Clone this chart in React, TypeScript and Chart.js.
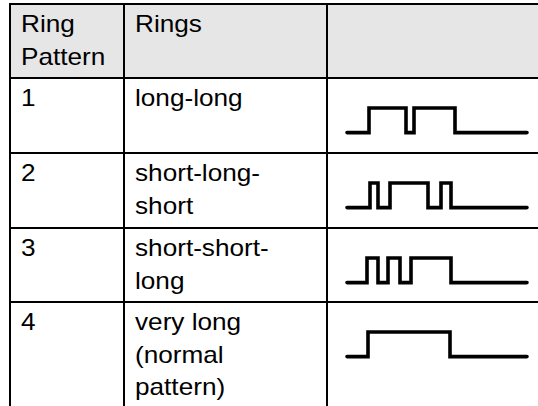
import React, { useEffect, useRef } from "react";
import { Chart, registerables } from "chart.js";

Chart.register(...registerables);

// ---- data ----
const headerCol1: string[] = ["Ring", "Pattern"];
const headerCol2: string[] = ["Rings"];
const patternIds: string[] = ["1", "2", "3", "4"];
const ringLines: string[][] = [
  ["long-long"],
  ["short-long-", "short"],
  ["short-short-", "long"],
  ["very long", "(normal", "pattern)"],
];
// waveform switching times (x units) and the level held from each time on
const row1Times: number[] = [0, 22, 59, 67, 108, 180];
const row1Levels: number[] = [0, 1, 0, 1, 0, 0];
const row2Times: number[] = [0, 23, 31, 43, 81, 94, 104, 180];
const row2Levels: number[] = [0, 1, 0, 1, 0, 1, 0, 0];
const row3Times: number[] = [0, 20, 31, 41, 53, 64, 104, 180];
const row3Levels: number[] = [0, 1, 0, 1, 0, 1, 0, 0];
const row4Times: number[] = [0, 21, 103, 180];
const row4Levels: number[] = [0, 1, 0, 0];
const waveTimes: number[][] = [row1Times, row2Times, row3Times, row4Times];
const waveLevels: number[][] = [row1Levels, row2Levels, row3Levels, row4Levels];
const timeMax = 180;

const FONT = '"Liberation Sans", Arial, Helvetica, sans-serif';
const HEADER_BG = "#e6e6e6";

function Wave({ times, levels }: { times: number[]; levels: number[] }) {
  const ref = useRef<HTMLCanvasElement | null>(null);
  useEffect(() => {
    if (!ref.current) return;
    const chart = new Chart(ref.current, {
      type: "line",
      data: {
        datasets: [
          {
            data: times.map((t, i) => ({ x: t, y: levels[i] })),
            borderColor: "#000",
            borderWidth: 3.6,
            pointRadius: 0,
            stepped: true,
            borderCapStyle: "round",
            borderJoinStyle: "miter",
            fill: false,
            clip: false as any,
          },
        ],
      },
      options: {
        animation: false,
        responsive: false,
        events: [],
        layout: { padding: { left: 19, right: 21, top: 29, bottom: 18.4 } },
        scales: {
          x: { type: "linear", min: 0, max: timeMax, display: false },
          y: { type: "linear", min: 0, max: 1, display: false },
        },
        plugins: { legend: { display: false }, tooltip: { enabled: false } },
      },
    });
    return () => chart.destroy();
  }, [times, levels]);
  return (
    <canvas
      ref={ref}
      width={220}
      height={72}
      style={{ position: "absolute", left: 0, top: 0, width: 220, height: 72 }}
    />
  );
}

function Lines({ lines }: { lines: string[] }) {
  return (
    <>
      {lines.map((l, i) => (
        <div
          key={i}
          style={{
            whiteSpace: "nowrap",
            transform: "scaleX(1.09)",
            transformOrigin: "left center",
            height: 32.5,
            lineHeight: "32.5px",
          }}
        >
          {l}
        </div>
      ))}
    </>
  );
}

const cellText: React.CSSProperties = {
  padding: "3px 10px 0 10px",
  boxSizing: "border-box",
  overflow: "hidden",
  position: "relative",
};

export default function App() {
  const rowHeights = [72, 73, 73, 72, 120];
  return (
    <div
      style={{
        position: "absolute",
        left: 0,
        top: 0,
        width: 538,
        height: 406,
        overflow: "hidden",
        background: "#fff",
      }}
    >
      <div
        style={{
          position: "absolute",
          left: 9,
          top: 3,
          display: "grid",
          gridTemplateColumns: "112px 201px 260px",
          gridTemplateRows: rowHeights.map((h) => h + "px").join(" "),
          gap: 2,
          padding: 2,
          background: "#000",
          fontFamily: FONT,
          fontSize: 24,
          color: "#000",
        }}
      >
        <div style={{ ...cellText, background: HEADER_BG }}>
          <Lines lines={headerCol1} />
        </div>
        <div style={{ ...cellText, background: HEADER_BG }}>
          <Lines lines={headerCol2} />
        </div>
        <div style={{ ...cellText, background: HEADER_BG }} />
        {patternIds.map((id, r) => (
          <React.Fragment key={id}>
            <div style={{ ...cellText, background: "#fff" }}>
              <Lines lines={[id]} />
            </div>
            <div style={{ ...cellText, background: "#fff" }}>
              <Lines lines={ringLines[r]} />
            </div>
            <div style={{ position: "relative", background: "#fff" }}>
              <Wave times={waveTimes[r]} levels={waveLevels[r]} />
            </div>
          </React.Fragment>
        ))}
      </div>
    </div>
  );
}
